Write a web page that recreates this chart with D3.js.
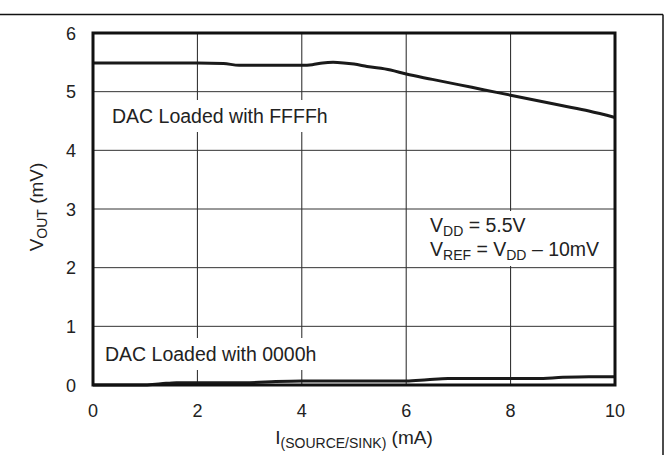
<!DOCTYPE html>
<html>
<head>
<meta charset="utf-8">
<script src="https://cdn.jsdelivr.net/npm/d3@7"></script>
<style>
  body { margin: 0; background: #fff; }
  svg text { font-family: "Liberation Sans", Arial, sans-serif; fill: #222; }
</style>
</head>
<body>
<svg id="chart" width="669" height="455"></svg>
<script>
// values
const xTicks = [0, 2, 4, 6, 8, 10];
const yTicks = [0, 1, 2, 3, 4, 5, 6];

const ffffCurrent = [0, 1, 2, 2.5, 2.8, 3.5, 4, 4.2, 4.4, 4.6, 4.8, 5, 5.25, 5.7, 6, 6.5, 7, 7.5, 8, 8.5, 9, 9.5, 10];
const ffffVout    = [5.49, 5.49, 5.49, 5.48, 5.45, 5.45, 5.45, 5.46, 5.49, 5.5, 5.49, 5.47, 5.43, 5.37, 5.30, 5.21, 5.12, 5.03, 4.94, 4.85, 4.76, 4.67, 4.56];

const zeroCurrent = [0, 1, 1.3, 1.6, 3, 3.5, 4, 6, 6.4, 6.8, 8.5, 9, 9.5, 10];
const zeroVout    = [0, 0, 0.02, 0.04, 0.04, 0.06, 0.07, 0.07, 0.09, 0.11, 0.11, 0.13, 0.14, 0.14];

const svg = d3.select("#chart");
const plotL = 93, plotR = 615, plotT = 33, plotB = 385;

const xScale = d3.scaleLinear().domain([0, 10]).range([plotL, plotR]);
const yScale = d3.scaleLinear().domain([0, 6]).range([plotB, plotT]);

// outer page frame
svg.append("line").attr("x1", 0).attr("x2", 663).attr("y1", 14.5).attr("y2", 14.5)
  .attr("stroke", "#111").attr("stroke-width", 1.5);
svg.append("line").attr("x1", 663).attr("x2", 663).attr("y1", 14.5).attr("y2", 455)
  .attr("stroke", "#111").attr("stroke-width", 1.5);

// grid
const grid = svg.append("g");
grid.selectAll(".vg").data(xTicks.slice(1, -1)).enter().append("line")
  .attr("x1", d => xScale(d)).attr("x2", d => xScale(d))
  .attr("y1", plotT).attr("y2", plotB)
  .attr("stroke", "#222").attr("stroke-width", 1);
grid.selectAll(".hg").data(yTicks.slice(1, -1)).enter().append("line")
  .attr("x1", plotL).attr("x2", plotR)
  .attr("y1", d => yScale(d)).attr("y2", d => yScale(d))
  .attr("stroke", "#333").attr("stroke-width", 1);

// text boxes with white backing
function note(x, y, lines, pad) {
  const g = svg.append("g");
  const t = g.append("text").attr("x", x).attr("y", y).attr("font-size", 19.5);
  lines.forEach((parts, i) => {
    parts.forEach((p, j) => {
      const ts = t.append("tspan").text(p.t);
      if (j === 0) ts.attr("x", x).attr("dy", i === 0 ? 0 : 24);
      if (p.sub) ts.attr("font-size", 14).attr("dy", 4);
      else if (j > 0 && parts[j - 1].sub) ts.attr("dy", -4);
    });
  });
  const b = t.node().getBBox();
  g.insert("rect", "text")
    .attr("x", b.x - pad[0]).attr("y", b.y - pad[1])
    .attr("width", b.width + 2 * pad[0]).attr("height", b.height + 2 * pad[1])
    .attr("fill", "#fff");
}
note(112, 123, [[{ t: "DAC Loaded with FFFFh" }]], [8, 5]);
note(105, 361, [[{ t: "DAC Loaded with 0000h" }]], [8, 5]);
note(430, 232, [
  [{ t: "V" }, { t: "DD", sub: true }, { t: " = 5.5V" }],
  [{ t: "V" }, { t: "REF", sub: true }, { t: " = V" }, { t: "DD", sub: true }, { t: " \u2013 10mV" }]
], [8, 3]);

// curves
const line = d3.line()
  .x(d => xScale(d[0]))
  .y(d => yScale(d[1]))
  .curve(d3.curveMonotoneX);

svg.append("path")
  .datum(ffffCurrent.map((c, i) => [c, ffffVout[i]]))
  .attr("d", line).attr("fill", "none")
  .attr("stroke", "#1a1a1a").attr("stroke-width", 3);

svg.append("path")
  .datum(zeroCurrent.map((c, i) => [c, zeroVout[i]]))
  .attr("d", line).attr("fill", "none")
  .attr("stroke", "#1a1a1a").attr("stroke-width", 3);

// plot frame
svg.append("rect")
  .attr("x", plotL).attr("y", plotT)
  .attr("width", plotR - plotL).attr("height", plotB - plotT)
  .attr("fill", "none").attr("stroke", "#111").attr("stroke-width", 3);

// tick labels
svg.selectAll(".xl").data(xTicks).enter().append("text")
  .attr("x", d => xScale(d)).attr("y", 417)
  .attr("text-anchor", "middle").attr("font-size", 18)
  .text(d => d);
svg.selectAll(".yl").data(yTicks).enter().append("text")
  .attr("x", 76).attr("y", d => yScale(d) + 6.5)
  .attr("text-anchor", "end").attr("font-size", 18)
  .text(d => d);

// axis titles
const xt = svg.append("text").attr("x", 354).attr("y", 444)
  .attr("text-anchor", "middle").attr("font-size", 19);
xt.append("tspan").text("I");
xt.append("tspan").text("(SOURCE/SINK)").attr("font-size", 14).attr("dy", 4);
xt.append("tspan").text(" (mA)").attr("dy", -4);

const yt = svg.append("text")
  .attr("transform", "translate(43,207) rotate(-90)")
  .attr("text-anchor", "middle").attr("font-size", 19);
yt.append("tspan").text("V");
yt.append("tspan").text("OUT").attr("font-size", 14).attr("dy", 4);
yt.append("tspan").text(" (mV)").attr("dy", -4);
</script>
</body>
</html>
